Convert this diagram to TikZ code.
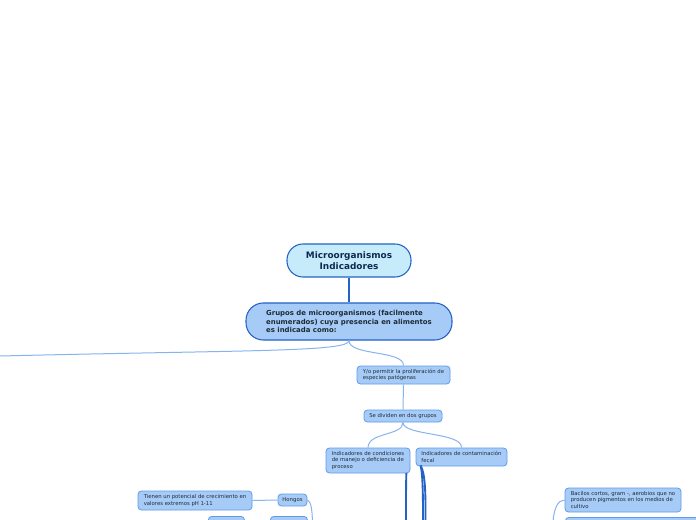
\documentclass[tikz,border=0pt]{standalone}
\usepackage{fontspec}
\setmainfont{DejaVu Sans}
\definecolor{boxc}{HTML}{A6CBF7}
\definecolor{rootc}{HTML}{C6ECFC}
\definecolor{bordc}{HTML}{5E9BE9}
\definecolor{darkb}{HTML}{2462C6}
\definecolor{linec}{HTML}{86B4EE}
\definecolor{txtc}{HTML}{1E2B36}
\definecolor{roottxt}{HTML}{102A52}
\tikzset{
  sbox/.style={draw=bordc, fill=boxc, rounded corners=2.6pt, line width=0.6pt,
    font=\fontsize{4.0}{4.8}\selectfont, text=txtc, align=left,
    inner xsep=2pt, inner ysep=0pt},
  thin/.style={draw=linec, line width=0.75pt},
  thickl/.style={draw=darkb, line width=1.4pt},
}
\begin{document}
\begin{tikzpicture}[x=0.75pt,y=-0.75pt]
\useasboundingbox (0,0) rectangle (696,520);
\fill[white] (0,0) rectangle (696,520);
% root
\node[draw=darkb, fill=rootc, line width=0.8pt, rounded corners=12pt,
  minimum width=93pt, minimum height=24.75pt, inner sep=0pt, align=center,
  font=\bfseries\fontsize{6.7}{8}\selectfont, text=roottxt] (root) at (349,260.5)
  {Microorganismos\\Indicadores};
\node[draw=darkb, fill=boxc, line width=0.8pt, rounded corners=13pt,
  minimum width=154.5pt, inner sep=0pt, minimum height=27.75pt, align=left,
  font=\bfseries\fontsize{5.2}{6.1}\selectfont, text=txtc] (grupos) at (349,321.5)
  {Grupos de microorganismos (facilmente\\enumerados) cuya presencia en alimentos\\es indicada como:};
\node[sbox, minimum width=69.75pt, minimum height=13.5pt] (yo) at (403.5,375)
  {Y/o permitir la proliferación de\\especies patógenas};
\node[sbox, minimum width=58.5pt, minimum height=9pt] (se) at (403,416)
  {Se dividen en dos grupos};
\node[sbox, minimum width=63pt, minimum height=18.75pt] (cond) at (368,460.5)
  {Indicadores de condiciones\\de manejo o deficiencia de\\proceso};
\node[sbox, minimum width=68.25pt, minimum height=13.5pt] (fecal) at (461.5,457)
  {Indicadores de contaminación\\fecal};
\node[sbox, minimum width=21.75pt, minimum height=9pt] (hongos) at (292.5,500)
  {Hongos};
\node[sbox, minimum width=85.5pt, minimum height=14.25pt] (tienen) at (195,500.5)
  {Tienen un potencial de crecimiento en\\valores extremos pH 1-11};
\node[sbox, minimum width=87pt, minimum height=18pt] (bac) at (623,500)
  {Bacilos cortos, gram -, aerobios que no\\producen pigmentos en los medios de\\cultivo};
% partial boxes cut by the lower edge
\node[sbox, minimum width=27pt, minimum height=12pt, anchor=north west] (p1) at (208,516) {};
\node[sbox, minimum width=27.75pt, minimum height=12pt, anchor=north west] (p2) at (270,516) {};
\node[sbox, minimum width=105pt, minimum height=15pt, anchor=north west] (p3) at (565,517) {};
% free ends
\coordinate (L) at (0,356);
\coordinate (c1) at (406,522);
\coordinate (f1) at (423,522);
\coordinate (f2) at (425.5,522);
\coordinate (h1) at (312.5,522);
\coordinate (b1) at (553,522);
% connectors
\draw[thickl] (root.south) -- (grupos.north);
\draw[thin] (grupos.south) .. controls (349,352) and (250,350) .. (L);
\draw[thin] (grupos.south) .. controls (349,356) and (404,350) .. (yo.north);
\draw[thin] (yo.south) -- (se.north);
\draw[thin] (se.south) .. controls (403,436) and (368,432) .. (cond.north);
\draw[thin] (se.south) .. controls (403,436) and (462,432) .. (fecal.north);
\draw[thickl] (cond.south east) ++(-4,-0.5) coordinate (cs) (cs) .. controls (406,480) and (406,500) .. (c1);
\draw[thickl] (fecal.south west) ++(5,-1) coordinate (fs) (fs) .. controls (423,475) and (423,500) .. (f1);
\draw[thickl] (fs) .. controls (426,475) and (425.5,500) .. (f2);
\draw[thin] (hongos.west) -- (tienen.east);
\draw[thin] (hongos.east) .. controls (311,502) and (312,508) .. (h1);
\draw[thin] (bac.west) .. controls (558,500) and (554,508) .. (b1);
\end{tikzpicture}
\end{document}
